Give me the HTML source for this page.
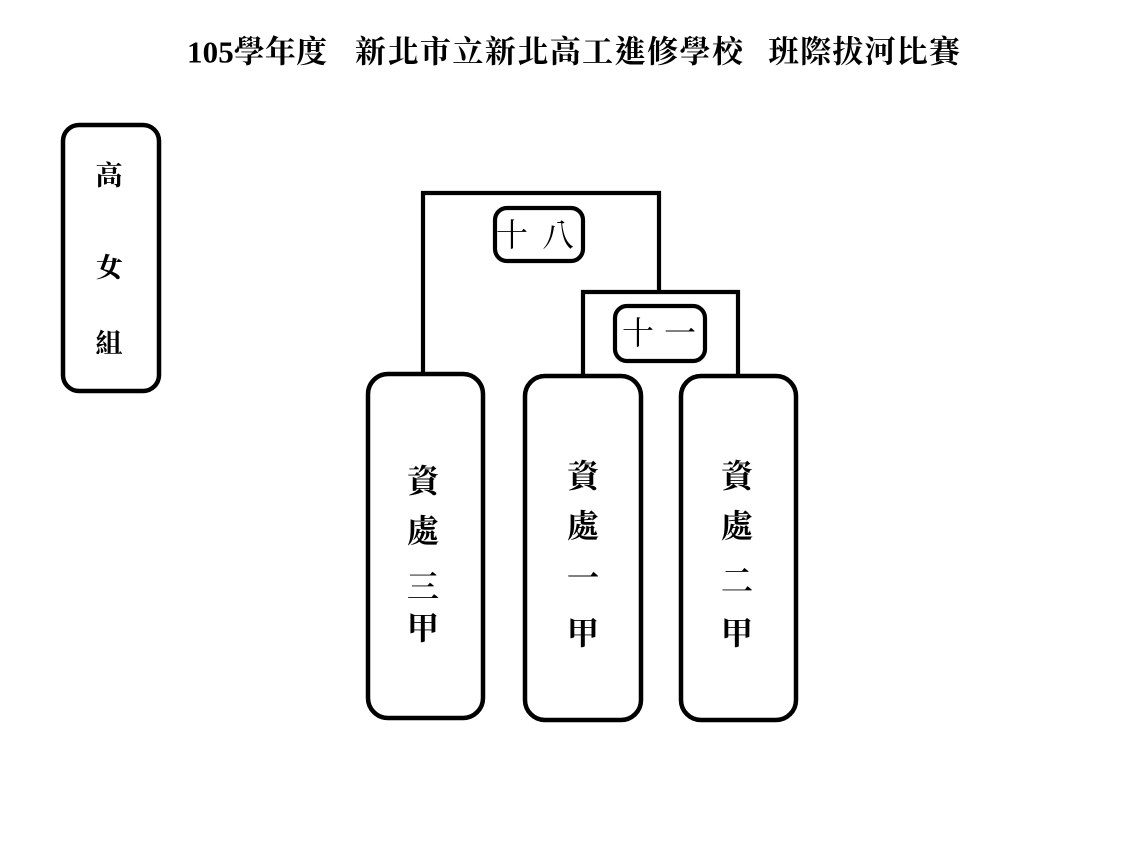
<!DOCTYPE html>
<html>
<head>
<meta charset="utf-8">
<style>
  html, body { margin: 0; padding: 0; background: #ffffff; }
  body { width: 1147px; height: 857px; overflow: hidden; }
  svg { display: block; }
  .t { font-family: "Liberation Serif", "Noto Serif CJK TC", "Noto Serif CJK SC", serif; fill: #000; }
  .b { font-weight: bold; }
</style>
</head>
<body>
<svg width="1147" height="857" viewBox="0 0 1147 857" xmlns="http://www.w3.org/2000/svg">
  <rect x="0" y="0" width="1147" height="857" fill="#ffffff"/>

  <!-- Title -->
  <text class="t" x="187" y="52" font-size="31" font-weight="bold" dominant-baseline="central" textLength="140" lengthAdjust="spacing">105學年度</text>
  <text class="t" x="355" y="52" font-size="31" font-weight="bold" dominant-baseline="central" textLength="388" lengthAdjust="spacing">新北市立新北高工進修學校</text>
  <text class="t" x="768" y="52" font-size="31" font-weight="bold" dominant-baseline="central" textLength="192" lengthAdjust="spacing">班際拔河比賽</text>

  <!-- Left group box -->
  <rect x="63" y="125" width="96" height="266" rx="16" ry="16" fill="none" stroke="#000" stroke-width="4.5"/>
  <text class="t b" x="109" y="176" font-size="27" text-anchor="middle" dominant-baseline="central">高</text>
  <text class="t b" x="109" y="268" font-size="27" text-anchor="middle" dominant-baseline="central">女</text>
  <text class="t b" x="109" y="344" font-size="27" text-anchor="middle" dominant-baseline="central">組</text>

  <!-- Bracket lines -->
  <path d="M423,374 V193 H659 V292" fill="none" stroke="#000" stroke-width="4.2"/>
  <path d="M583,376 V292 H738 V376" fill="none" stroke="#000" stroke-width="4.2"/>

  <!-- Score boxes -->
  <rect x="495" y="208" width="88" height="53" rx="12" ry="12" fill="#fff" stroke="#000" stroke-width="4.2"/>
  <text class="t" x="512" y="235" font-size="32" text-anchor="middle" dominant-baseline="central">十</text>
  <text class="t" x="558" y="235" font-size="32" text-anchor="middle" dominant-baseline="central">八</text>

  <rect x="615" y="306" width="90" height="55" rx="12" ry="12" fill="#fff" stroke="#000" stroke-width="4.2"/>
  <text class="t" x="638" y="333" font-size="32" text-anchor="middle" dominant-baseline="central">十</text>
  <text class="t" x="680" y="333" font-size="32" text-anchor="middle" dominant-baseline="central">一</text>

  <!-- Team boxes -->
  <rect x="368" y="374" width="115" height="344" rx="20" ry="20" fill="#fff" stroke="#000" stroke-width="4.5"/>
  <text class="t b" x="423" y="481" font-size="32" text-anchor="middle" dominant-baseline="central">資</text>
  <text class="t b" x="423" y="531" font-size="32" text-anchor="middle" dominant-baseline="central">處</text>
  <text class="t b" x="423" y="587" font-size="32" text-anchor="middle" dominant-baseline="central">三</text>
  <text class="t b" x="423" y="628" font-size="32" text-anchor="middle" dominant-baseline="central">甲</text>

  <rect x="525" y="376" width="116" height="344" rx="20" ry="20" fill="#fff" stroke="#000" stroke-width="4.5"/>
  <text class="t b" x="583" y="476" font-size="32" text-anchor="middle" dominant-baseline="central">資</text>
  <text class="t b" x="583" y="526" font-size="32" text-anchor="middle" dominant-baseline="central">處</text>
  <text class="t b" x="583" y="578" font-size="32" text-anchor="middle" dominant-baseline="central">一</text>
  <text class="t b" x="583" y="633" font-size="32" text-anchor="middle" dominant-baseline="central">甲</text>

  <rect x="681" y="376" width="115" height="344" rx="20" ry="20" fill="#fff" stroke="#000" stroke-width="4.5"/>
  <text class="t b" x="737" y="476" font-size="32" text-anchor="middle" dominant-baseline="central">資</text>
  <text class="t b" x="737" y="526" font-size="32" text-anchor="middle" dominant-baseline="central">處</text>
  <text class="t b" x="737" y="581" font-size="32" text-anchor="middle" dominant-baseline="central">二</text>
  <text class="t b" x="737" y="633" font-size="32" text-anchor="middle" dominant-baseline="central">甲</text>
</svg>
</body>
</html>
